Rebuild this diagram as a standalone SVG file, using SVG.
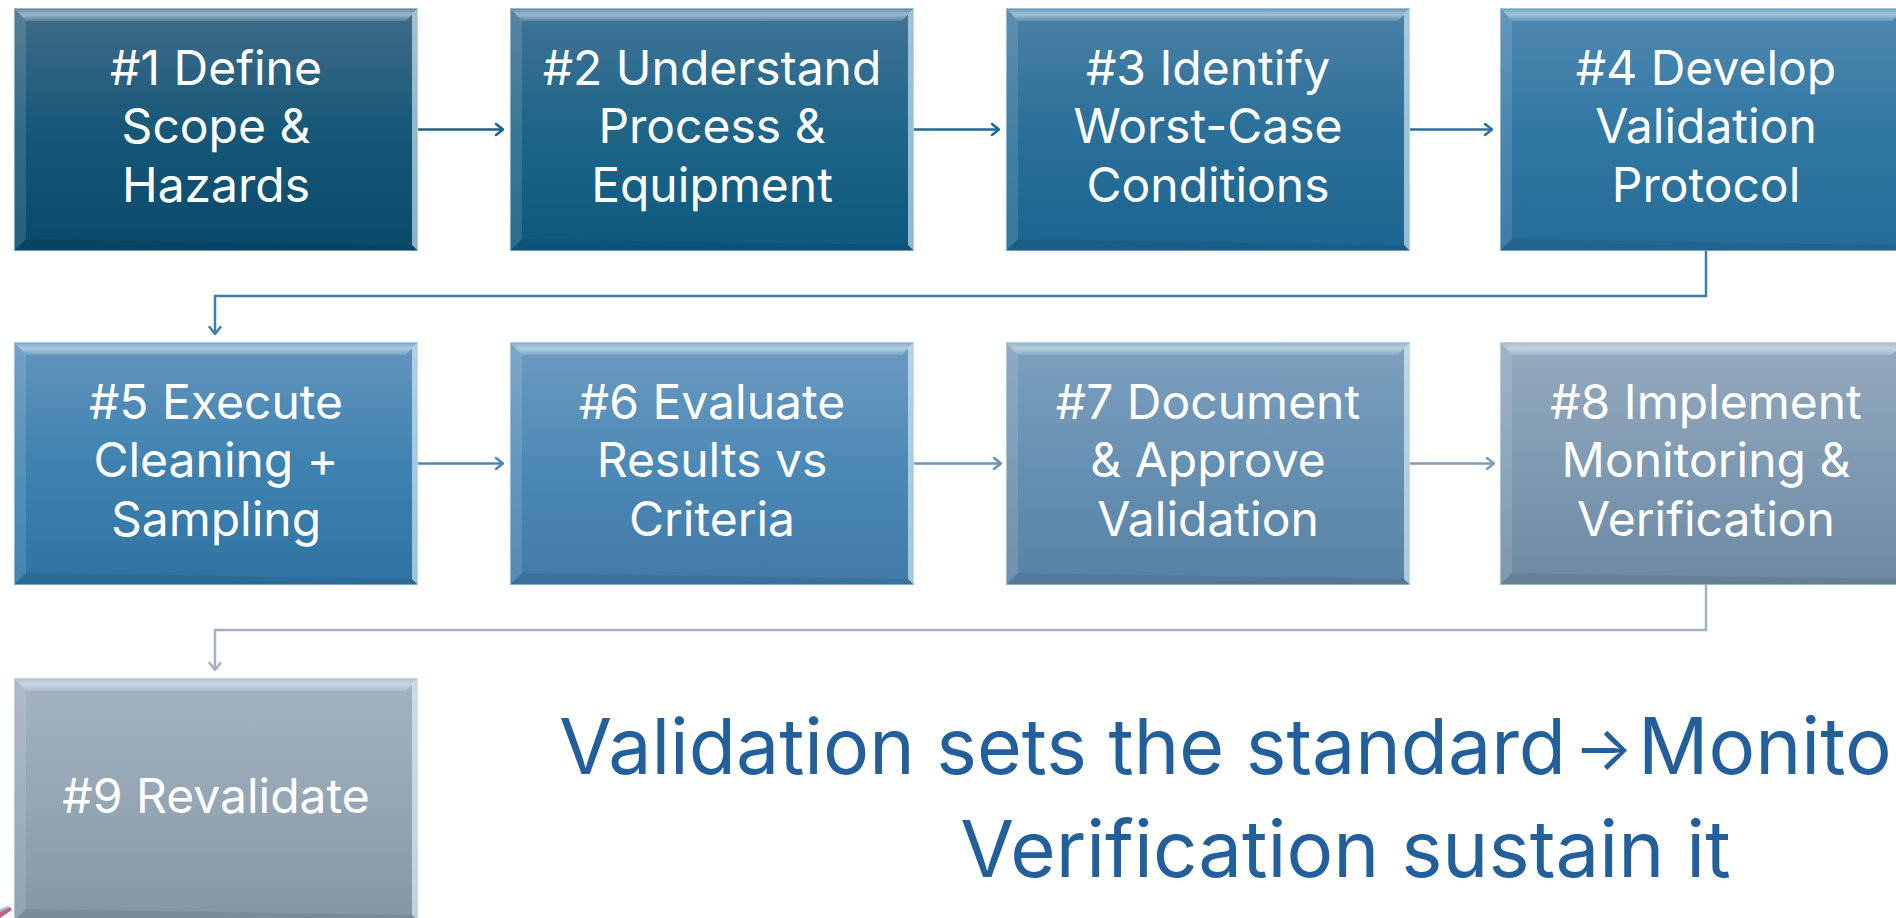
<svg xmlns="http://www.w3.org/2000/svg" xmlns:xlink="http://www.w3.org/1999/xlink" width="1896" height="918" viewBox="0 0 1896 918">
<style>
  .lbl { font-family: Inter, "Open Sans", "Liberation Sans", sans-serif; font-size: 48px; fill: #ffffff; text-anchor: middle; }
  .cap { font-family: Inter, "Open Sans", "Liberation Sans", sans-serif; font-size: 78px; fill: #23609b; }
  .cap1 { font-size: 77px; }
  .arr { font-size: 62px; }
  .con { fill: none; stroke-width: 2.5; stroke-linejoin: miter; }
  .head { fill: none; stroke-width: 2.5; stroke-linecap: round; stroke-linejoin: round; }
</style>
<defs>
  <linearGradient id="g1" x1="0" y1="0" x2="0" y2="1"><stop offset="0" stop-color="#416d8a"/><stop offset="0.5" stop-color="#175878"/><stop offset="1" stop-color="#094a6a"/></linearGradient>
  <linearGradient id="g2" x1="0" y1="0" x2="0" y2="1"><stop offset="0" stop-color="#427496"/><stop offset="0.5" stop-color="#1e6588"/><stop offset="1" stop-color="#0e597f"/></linearGradient>
  <linearGradient id="g3" x1="0" y1="0" x2="0" y2="1"><stop offset="0" stop-color="#4b80a5"/><stop offset="0.5" stop-color="#2b7099"/><stop offset="1" stop-color="#1b6590"/></linearGradient>
  <linearGradient id="g4" x1="0" y1="0" x2="0" y2="1"><stop offset="0" stop-color="#5189b0"/><stop offset="0.5" stop-color="#3178a3"/><stop offset="1" stop-color="#256b97"/></linearGradient>
  <linearGradient id="g5" x1="0" y1="0" x2="0" y2="1"><stop offset="0" stop-color="#6495be"/><stop offset="0.5" stop-color="#3e82b0"/><stop offset="1" stop-color="#2f73a3"/></linearGradient>
  <linearGradient id="g6" x1="0" y1="0" x2="0" y2="1"><stop offset="0" stop-color="#6d9bc2"/><stop offset="0.5" stop-color="#4d89b6"/><stop offset="1" stop-color="#3f7aa8"/></linearGradient>
  <linearGradient id="g7" x1="0" y1="0" x2="0" y2="1"><stop offset="0" stop-color="#7ea0bd"/><stop offset="0.5" stop-color="#6791b3"/><stop offset="1" stop-color="#5882a4"/></linearGradient>
  <linearGradient id="g8" x1="0" y1="0" x2="0" y2="1"><stop offset="0" stop-color="#95aabe"/><stop offset="0.5" stop-color="#7f9ab2"/><stop offset="1" stop-color="#6d89a2"/></linearGradient>
  <linearGradient id="g9" x1="0" y1="0" x2="0" y2="1"><stop offset="0" stop-color="#a4b3c0"/><stop offset="0.5" stop-color="#95a6b5"/><stop offset="1" stop-color="#8495a5"/></linearGradient>
  <linearGradient id="topHi" x1="0" y1="0" x2="0" y2="1"><stop offset="0" stop-color="#ffffff" stop-opacity="0.15"/><stop offset="0.5" stop-color="#dff3ff" stop-opacity="0.55"/><stop offset="1" stop-color="#ffffff" stop-opacity="0.12"/></linearGradient>
  <g id="bevel">
    <polygon points="0,0 404,0 392,13 12,13" fill="url(#topHi)"/>
    <polygon points="0,0 12,13 12,231 0,243" fill="#ffffff" fill-opacity="0.12"/>
    <polygon points="404,0 404,243 398,237 398,6" fill="#e8f8ff" fill-opacity="0.6"/>
    <polygon points="0,243 404,243 398,237 12,231" fill="#000000" fill-opacity="0.07"/>
    <rect x="0.5" y="0.5" width="403" height="242" fill="none" stroke="#cfe6f5" stroke-opacity="0.5"/>
  </g>
</defs>
<rect width="1896" height="918" fill="#ffffff"/>

<g id="connectors">
  <path class="con" stroke="#1f5f85" d="M418,129.5 H503"/>
  <path class="head" stroke="#1f5f85" d="M496,124 L503,129.5 L496,135"/>
  <path class="con" stroke="#236892" d="M914,129.5 H999"/>
  <path class="head" stroke="#236892" d="M992,124 L999,129.5 L992,135"/>
  <path class="con" stroke="#2b6f9b" d="M1410,129.5 H1492"/>
  <path class="head" stroke="#2b6f9b" d="M1485,124 L1492,129.5 L1485,135"/>
  <path class="con" stroke="#3c7fac" d="M1706,250 V296 H215 V334"/>
  <path class="head" stroke="#3c7fac" d="M209.5,327 L215,334 L220.5,327"/>
  <path class="con" stroke="#4a86b4" d="M418,463.5 H503"/>
  <path class="head" stroke="#4a86b4" d="M496,458 L503,463.5 L496,469"/>
  <path class="con" stroke="#6993b7" d="M914,463.5 H1001"/>
  <path class="head" stroke="#6993b7" d="M994,458 L1001,463.5 L994,469"/>
  <path class="con" stroke="#819db6" d="M1410,463.5 H1494"/>
  <path class="head" stroke="#819db6" d="M1487,458 L1494,463.5 L1487,469"/>
  <path class="con" stroke="#a0b2c2" d="M1706,584 V630 H215 V670"/>
  <path class="head" stroke="#a0b2c2" d="M209.5,663 L215,670 L220.5,663"/>
</g>

<g id="node1">
  <rect x="14" y="8" width="404" height="243" fill="url(#g1)"/>
  <use xlink:href="#bevel" x="14" y="8"/>
  <text class="lbl" x="216" y="85">#1 Define</text>
  <text class="lbl" x="216" y="143">Scope &amp;</text>
  <text class="lbl" x="216" y="202">Hazards</text>
</g>
<g id="node2">
  <rect x="510" y="8" width="404" height="243" fill="url(#g2)"/>
  <use xlink:href="#bevel" x="510" y="8"/>
  <text class="lbl" x="712" y="85">#2 Understand</text>
  <text class="lbl" x="712" y="143">Process &amp;</text>
  <text class="lbl" x="712" y="202">Equipment</text>
</g>
<g id="node3">
  <rect x="1006" y="8" width="404" height="243" fill="url(#g3)"/>
  <use xlink:href="#bevel" x="1006" y="8"/>
  <text class="lbl" x="1208" y="85">#3 Identify</text>
  <text class="lbl" x="1208" y="143">Worst-Case</text>
  <text class="lbl" x="1208" y="202">Conditions</text>
</g>
<g id="node4">
  <rect x="1500" y="8" width="412" height="243" fill="url(#g4)"/>
  <use xlink:href="#bevel" x="1500" y="8"/>
  <text class="lbl" x="1706" y="85">#4 Develop</text>
  <text class="lbl" x="1706" y="143">Validation</text>
  <text class="lbl" x="1706" y="202">Protocol</text>
</g>
<g id="node5">
  <rect x="14" y="342" width="404" height="243" fill="url(#g5)"/>
  <use xlink:href="#bevel" x="14" y="342"/>
  <text class="lbl" x="216" y="419">#5 Execute</text>
  <text class="lbl" x="216" y="477">Cleaning +</text>
  <text class="lbl" x="216" y="536">Sampling</text>
</g>
<g id="node6">
  <rect x="510" y="342" width="404" height="243" fill="url(#g6)"/>
  <use xlink:href="#bevel" x="510" y="342"/>
  <text class="lbl" x="712" y="419">#6 Evaluate</text>
  <text class="lbl" x="712" y="477">Results vs</text>
  <text class="lbl" x="712" y="536">Criteria</text>
</g>
<g id="node7">
  <rect x="1006" y="342" width="404" height="243" fill="url(#g7)"/>
  <use xlink:href="#bevel" x="1006" y="342"/>
  <text class="lbl" x="1208" y="419">#7 Document</text>
  <text class="lbl" x="1208" y="477">&amp; Approve</text>
  <text class="lbl" x="1208" y="536">Validation</text>
</g>
<g id="node8">
  <rect x="1500" y="342" width="412" height="243" fill="url(#g8)"/>
  <use xlink:href="#bevel" x="1500" y="342"/>
  <text class="lbl" x="1706" y="419">#8 Implement</text>
  <text class="lbl" x="1706" y="477">Monitoring &amp;</text>
  <text class="lbl" x="1706" y="536">Verification</text>
</g>
<g id="node9">
  <rect x="14" y="678" width="404" height="243" fill="url(#g9)"/>
  <use xlink:href="#bevel" x="14" y="678"/>
  <text class="lbl" x="216" y="813">#9 Revalidate</text>
</g>

<g id="corner">
  <polygon points="0,912 10,907 12,910 0,918" fill="#b03a6a" fill-opacity="0.8"/>
  <polygon points="0,909 8,906 10,907 0,912" fill="#7fb0d8" fill-opacity="0.8"/>
</g>

<g id="caption">
  <text class="cap" x="559" y="774"><tspan class="cap1">Validation sets the standard</tspan><tspan class="arr" x="1574" dy="-4">→</tspan><tspan x="1638" dy="4">Monitoring &amp;</tspan></text>
  <text class="cap" x="1345.5" y="877" text-anchor="middle">Verification sustain it</text>
</g>
</svg>
